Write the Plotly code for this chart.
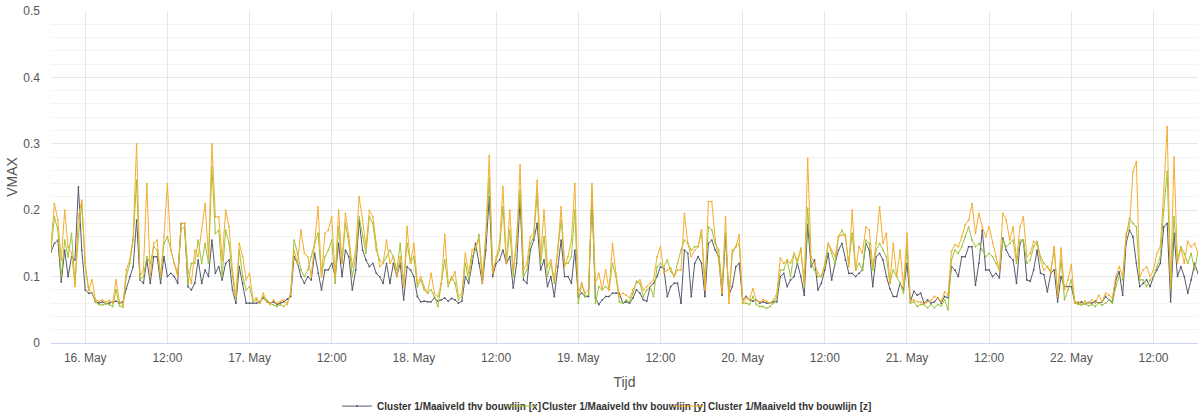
import pandas as pd
import plotly.graph_objects as go

# Half-hourly VMAX readings, starting 15 May 19:00
start_time = "2023-05-15 19:00"
step = "30min"

vmax_x = [
    0.137, 0.15, 0.155, 0.092, 0.14, 0.10, 0.13, 0.125, 0.235, 0.14,
    0.08, 0.075, 0.075, 0.062, 0.060, 0.062, 0.059, 0.06, 0.061, 0.063,
    0.06, 0.062, 0.082, 0.10, 0.115, 0.185, 0.095, 0.09, 0.125, 0.09,
    0.13, 0.13, 0.09, 0.13, 0.10, 0.105, 0.10, 0.09, 0.18, 0.18,
    0.085, 0.08, 0.09, 0.125, 0.09, 0.11, 0.10, 0.155, 0.105, 0.115,
    0.095, 0.12, 0.125, 0.08, 0.06, 0.115, 0.09, 0.06, 0.06, 0.06,
    0.06, 0.062, 0.068, 0.063, 0.06, 0.062, 0.058, 0.06, 0.062, 0.066,
    0.07, 0.13, 0.12, 0.10, 0.09, 0.10, 0.095, 0.135, 0.105, 0.08,
    0.11, 0.11, 0.12, 0.10, 0.15, 0.10, 0.14, 0.13, 0.08, 0.11,
    0.185, 0.14, 0.125, 0.115, 0.12, 0.105, 0.10, 0.09, 0.12, 0.09,
    0.12, 0.10, 0.12, 0.065, 0.115, 0.11, 0.10, 0.07, 0.062, 0.063,
    0.062, 0.062, 0.068, 0.063, 0.065, 0.068, 0.063, 0.067, 0.065, 0.06,
    0.063, 0.10, 0.09, 0.12, 0.15, 0.12, 0.09, 0.14, 0.22, 0.10,
    0.12, 0.125, 0.14, 0.12, 0.13, 0.083, 0.12, 0.215, 0.095, 0.09,
    0.14, 0.155, 0.18, 0.11, 0.125, 0.085, 0.10, 0.07, 0.115, 0.155,
    0.10, 0.10, 0.09, 0.14, 0.07, 0.075, 0.07, 0.07, 0.225, 0.068,
    0.058, 0.065, 0.07, 0.07, 0.075, 0.075, 0.075, 0.06, 0.062, 0.06,
    0.068, 0.08, 0.075, 0.065, 0.063, 0.085, 0.09, 0.10, 0.115, 0.112,
    0.07, 0.085, 0.09, 0.09, 0.06, 0.14, 0.135, 0.07, 0.12, 0.13,
    0.12, 0.07, 0.15, 0.155, 0.14, 0.13, 0.072, 0.16, 0.072, 0.085,
    0.115, 0.12, 0.065, 0.07, 0.065, 0.063, 0.065, 0.06, 0.062, 0.06,
    0.06, 0.062, 0.062, 0.10, 0.105, 0.085, 0.095, 0.10, 0.12, 0.10,
    0.072, 0.178, 0.115, 0.125, 0.08, 0.09, 0.11, 0.135, 0.095, 0.12,
    0.14, 0.15, 0.125, 0.105, 0.105, 0.10, 0.105, 0.11, 0.15, 0.14,
    0.085, 0.13, 0.135, 0.125, 0.10, 0.082, 0.07, 0.07, 0.09, 0.08,
    0.12, 0.062, 0.078, 0.072, 0.075, 0.06, 0.065, 0.06, 0.062, 0.068,
    0.06, 0.07, 0.068, 0.115, 0.11, 0.10, 0.13, 0.13, 0.145, 0.145,
    0.087, 0.12, 0.17, 0.11, 0.11, 0.10, 0.105, 0.098, 0.158, 0.14,
    0.13, 0.125, 0.09, 0.15, 0.155, 0.095, 0.093, 0.11, 0.14, 0.105,
    0.103, 0.077, 0.105, 0.11, 0.062, 0.10, 0.085, 0.085, 0.085, 0.062,
    0.06, 0.062, 0.059, 0.061, 0.06, 0.063, 0.06, 0.062, 0.07, 0.065,
    0.062, 0.095, 0.107, 0.072, 0.15, 0.17, 0.16, 0.12, 0.085, 0.09,
    0.095, 0.085, 0.10, 0.11, 0.12, 0.175, 0.18, 0.062, 0.165, 0.10,
    0.115, 0.10, 0.075, 0.095, 0.12, 0.105,
]

vmax_y = [
    0.14, 0.19, 0.17, 0.10, 0.155, 0.13, 0.165, 0.09, 0.16, 0.21,
    0.115, 0.08, 0.075, 0.062, 0.058, 0.057, 0.06, 0.058, 0.055, 0.08,
    0.056, 0.054, 0.10, 0.12, 0.155, 0.245, 0.095, 0.10, 0.13, 0.12,
    0.145, 0.14, 0.10, 0.15, 0.16, 0.14, 0.12, 0.105, 0.17, 0.175,
    0.09, 0.12, 0.12, 0.155, 0.12, 0.15, 0.12, 0.265, 0.165, 0.17,
    0.10, 0.17, 0.15, 0.10, 0.065, 0.14, 0.10, 0.08, 0.085, 0.062,
    0.065, 0.06, 0.07, 0.065, 0.06, 0.057, 0.055, 0.058, 0.055, 0.06,
    0.075, 0.155, 0.135, 0.11, 0.10, 0.11, 0.13, 0.15, 0.165, 0.10,
    0.13, 0.14, 0.155, 0.09, 0.175, 0.12, 0.18, 0.15, 0.10, 0.13,
    0.19, 0.16, 0.135, 0.19, 0.18, 0.14, 0.125, 0.12, 0.13, 0.14,
    0.13, 0.11, 0.15, 0.09, 0.15, 0.12, 0.13, 0.085, 0.095, 0.08,
    0.075, 0.08, 0.07, 0.055, 0.09, 0.125, 0.085, 0.10, 0.09, 0.065,
    0.07, 0.12, 0.095, 0.13, 0.14, 0.163, 0.10, 0.16, 0.248, 0.11,
    0.125, 0.14, 0.205, 0.12, 0.17, 0.10, 0.16, 0.23, 0.10, 0.11,
    0.15, 0.16, 0.225, 0.12, 0.16, 0.10, 0.12, 0.09, 0.14, 0.185,
    0.12, 0.12, 0.13, 0.20, 0.06, 0.09, 0.07, 0.072, 0.23, 0.06,
    0.085, 0.08, 0.085, 0.08, 0.12, 0.10, 0.062, 0.06, 0.065, 0.062,
    0.075, 0.093, 0.09, 0.07, 0.08, 0.085, 0.07, 0.115, 0.12, 0.115,
    0.125, 0.108, 0.10, 0.12, 0.14, 0.155, 0.15, 0.14, 0.145, 0.145,
    0.17, 0.09, 0.175, 0.17, 0.15, 0.14, 0.085, 0.165, 0.07, 0.135,
    0.145, 0.15, 0.06, 0.06, 0.058, 0.07, 0.058, 0.055, 0.055, 0.052,
    0.055, 0.06, 0.07, 0.11, 0.11, 0.125, 0.10, 0.135, 0.12, 0.143,
    0.085, 0.203, 0.12, 0.11, 0.10, 0.10, 0.115, 0.15, 0.135, 0.12,
    0.16, 0.17, 0.16, 0.12, 0.165, 0.11, 0.12, 0.11, 0.155, 0.15,
    0.11, 0.14, 0.15, 0.14, 0.13, 0.09, 0.11, 0.10, 0.09, 0.075,
    0.145, 0.06, 0.062, 0.055, 0.058, 0.058, 0.053, 0.058, 0.053, 0.058,
    0.056, 0.065, 0.05, 0.125, 0.14, 0.135, 0.145, 0.16, 0.175, 0.155,
    0.145, 0.15, 0.14, 0.13, 0.135, 0.13, 0.12, 0.11, 0.155, 0.145,
    0.15, 0.155, 0.12, 0.155, 0.155, 0.12, 0.125, 0.145, 0.153, 0.13,
    0.12, 0.115, 0.108, 0.143, 0.075, 0.125, 0.065, 0.08, 0.095, 0.06,
    0.058, 0.057, 0.06, 0.056, 0.058, 0.055, 0.06, 0.057, 0.06, 0.065,
    0.06, 0.085, 0.10, 0.095, 0.16, 0.188, 0.18, 0.175, 0.095, 0.095,
    0.085, 0.095, 0.10, 0.115, 0.13, 0.20, 0.258, 0.08, 0.19, 0.125,
    0.145, 0.135, 0.12, 0.135, 0.11, 0.138,
]

vmax_z = [
    0.148, 0.21, 0.185, 0.125, 0.20, 0.145, 0.135, 0.085, 0.19, 0.215,
    0.12, 0.08, 0.095, 0.065, 0.063, 0.065, 0.062, 0.064, 0.060, 0.095,
    0.062, 0.057, 0.11, 0.125, 0.16, 0.30, 0.10, 0.11, 0.24, 0.10,
    0.15, 0.155, 0.10, 0.16, 0.24, 0.14, 0.12, 0.10, 0.18, 0.18,
    0.11, 0.09, 0.14, 0.13, 0.17, 0.21, 0.13, 0.30, 0.19, 0.19,
    0.125, 0.20, 0.175, 0.11, 0.07, 0.15, 0.13, 0.095, 0.105, 0.065,
    0.068, 0.06, 0.075, 0.062, 0.058, 0.065, 0.06, 0.063, 0.065, 0.058,
    0.075, 0.14, 0.12, 0.17, 0.135, 0.13, 0.10, 0.15, 0.205, 0.10,
    0.165, 0.17, 0.19, 0.10, 0.20, 0.12, 0.195, 0.16, 0.115, 0.14,
    0.22, 0.185, 0.145, 0.20, 0.19, 0.15, 0.115, 0.12, 0.155, 0.12,
    0.13, 0.10, 0.13, 0.085, 0.175, 0.12, 0.15, 0.09, 0.10, 0.085,
    0.075, 0.105, 0.075, 0.07, 0.09, 0.163, 0.09, 0.095, 0.107, 0.07,
    0.075, 0.135, 0.105, 0.14, 0.145, 0.155, 0.09, 0.165, 0.282, 0.105,
    0.13, 0.15, 0.235, 0.12, 0.20, 0.11, 0.15, 0.268, 0.11, 0.12,
    0.16, 0.165, 0.245, 0.13, 0.20, 0.115, 0.125, 0.095, 0.14, 0.205,
    0.115, 0.13, 0.155, 0.24, 0.075, 0.09, 0.075, 0.08, 0.24, 0.09,
    0.105, 0.08, 0.11, 0.08, 0.15, 0.105, 0.07, 0.075, 0.072, 0.068,
    0.08, 0.09, 0.095, 0.08, 0.085, 0.09, 0.095, 0.13, 0.145, 0.105,
    0.11, 0.113, 0.10, 0.11, 0.11, 0.195, 0.15, 0.13, 0.14, 0.145,
    0.17, 0.08, 0.213, 0.213, 0.155, 0.125, 0.075, 0.19, 0.06, 0.14,
    0.145, 0.163, 0.06, 0.068, 0.065, 0.082, 0.065, 0.062, 0.065, 0.063,
    0.06, 0.065, 0.075, 0.128, 0.12, 0.125, 0.12, 0.135, 0.125, 0.14,
    0.09, 0.278, 0.13, 0.12, 0.105, 0.10, 0.12, 0.15, 0.14, 0.13,
    0.16, 0.163, 0.163, 0.115, 0.20, 0.11, 0.145, 0.135, 0.175, 0.17,
    0.115, 0.15, 0.205, 0.15, 0.165, 0.09, 0.15, 0.10, 0.14, 0.085,
    0.165, 0.063, 0.065, 0.062, 0.062, 0.058, 0.062, 0.064, 0.07, 0.068,
    0.062, 0.077, 0.072, 0.138, 0.148, 0.145, 0.16, 0.178, 0.185, 0.21,
    0.165, 0.195, 0.175, 0.16, 0.175, 0.15, 0.13, 0.11, 0.195, 0.185,
    0.155, 0.175, 0.125, 0.175, 0.19, 0.13, 0.135, 0.153, 0.148, 0.125,
    0.11, 0.115, 0.105, 0.145, 0.07, 0.143, 0.08, 0.095, 0.118, 0.06,
    0.062, 0.058, 0.063, 0.06, 0.065, 0.06, 0.072, 0.062, 0.075, 0.072,
    0.068, 0.10, 0.115, 0.10, 0.165, 0.175, 0.258, 0.273, 0.10, 0.11,
    0.115, 0.10, 0.11, 0.135, 0.145, 0.23, 0.326, 0.085, 0.28, 0.12,
    0.143, 0.12, 0.153, 0.145, 0.15, 0.135,
]

series_names = [
    "Cluster 1/Maaiveld thv bouwlijn [x]",
    "Cluster 1/Maaiveld thv bouwlijn [y]",
    "Cluster 1/Maaiveld thv bouwlijn [z]",
]
series_colors = ["#565a6d", "#9cc43a", "#f5ad2e"]

tick_labels = [
    "16. May", "12:00", "17. May", "12:00", "18. May", "12:00", "19. May",
    "12:00", "20. May", "12:00", "21. May", "12:00", "22. May", "12:00",
]

times = pd.date_range(start_time, periods=len(vmax_x), freq=step)
tick_times = pd.date_range("2023-05-16", periods=len(tick_labels), freq="12h")

font_family = "Liberation Sans, Arial, sans-serif"

# one legend per series, laid out side by side under the axis title
legend_ids = ["legend", "legend2", "legend3"]
legend_x = [0.2494, 0.3932, 0.5379]

fig = go.Figure()
for name, color, values, lid in zip(series_names, series_colors,
                                    [vmax_x, vmax_y, vmax_z], legend_ids):
    fig.add_trace(go.Scatter(
        x=times, y=values, name=name, mode="lines+markers",
        line=dict(color=color, width=1),
        marker=dict(color=color, size=1.8),
        legend=lid,
    ))

legend_style = dict(
    orientation="h", xanchor="left", y=-0.19, yanchor="middle",
    font=dict(size=10, color="#333333", family=font_family, weight="bold"),
    itemwidth=30, bgcolor="rgba(0,0,0,0)",
)

fig.update_layout(
    width=1198, height=418,
    margin=dict(l=51, r=0, t=11, b=75, autoexpand=False),
    paper_bgcolor="white", plot_bgcolor="white",
    font=dict(family=font_family, color="#333333"),
    showlegend=True,
    legend=dict(x=legend_x[0], **legend_style),
    legend2=dict(x=legend_x[1], **legend_style),
    legend3=dict(x=legend_x[2], **legend_style),
    xaxis=dict(
        range=[times[0], times[-1]],
        tickvals=tick_times, ticktext=tick_labels,
        showgrid=True, gridcolor="#e6e6e6", gridwidth=1,
        showline=True, linecolor="#ccd6eb", linewidth=1,
        ticks="", tickfont=dict(size=12, color="#555555"),
        ticklabelstandoff=4, automargin=False,
        title=dict(text="Tijd", font=dict(size=14, color="#555555"), standoff=12),
        zeroline=False,
    ),
    yaxis=dict(
        range=[0, 0.5], dtick=0.1, tick0=0,
        showgrid=True, gridcolor="#e6e6e6", gridwidth=1,
        minor=dict(dtick=0.02, showgrid=True, gridcolor="#f3f3f3"),
        showline=False, zeroline=False, ticks="",
        tickfont=dict(size=12, color="#555555"),
        ticklabelstandoff=10, automargin=False,
        title=dict(text="VMAX", font=dict(size=14, color="#555555"), standoff=2),
    ),
)

fig.write_html("out.html")
